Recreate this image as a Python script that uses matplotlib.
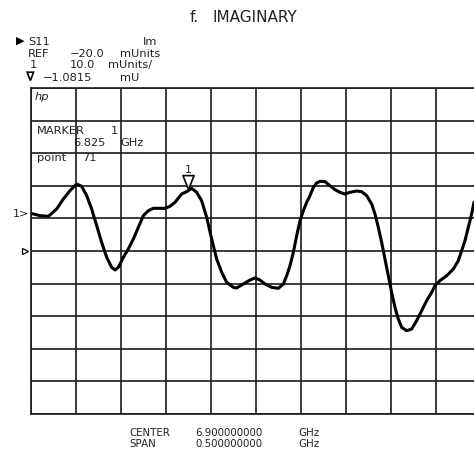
import matplotlib
matplotlib.use("Agg")
import matplotlib.pyplot as plt
import matplotlib.transforms as mtransforms

# ---- data ----
freq_ghz = [6.6500, 6.6600, 6.6693, 6.6785, 6.6859, 6.6933, 6.7007, 6.7063,
            6.7119, 6.7174, 6.7230, 6.7285, 6.7341, 6.7396, 6.7433, 6.7470,
            6.7526, 6.7581, 6.7637, 6.7693, 6.7748, 6.7804, 6.7859, 6.7989,
            6.8044, 6.8100, 6.8174, 6.8230, 6.8285, 6.8341, 6.8396, 6.8452,
            6.8507, 6.8563, 6.8619, 6.8674, 6.8748, 6.8785, 6.8859, 6.8933,
            6.8989, 6.9044, 6.9100, 6.9174, 6.9248, 6.9304, 6.9341, 6.9378,
            6.9415, 6.9452, 6.9489, 6.9526, 6.9563, 6.9600, 6.9637, 6.9674,
            6.9711, 6.9767, 6.9822, 6.9878, 6.9933, 6.9989, 7.0044, 7.0119,
            7.0174, 7.0230, 7.0285, 7.0322, 7.0359, 7.0396, 7.0433, 7.0470,
            7.0507, 7.0544, 7.0581, 7.0619, 7.0674, 7.0730, 7.0785, 7.0841,
            7.0896, 7.0952, 7.0989, 7.1044, 7.1119, 7.1193, 7.1248, 7.1285,
            7.1322, 7.1359, 7.1396, 7.1422]
imag_mu = [-8.45, -9.16, -9.37, -7.12, -4.05, -1.49, 0.55, -0.16,
           -3.03, -7.12, -12.23, -17.34, -21.94, -25.01, -25.83, -25.01,
           -21.94, -19.39, -16.32, -12.74, -9.16, -7.63, -6.91, -6.91,
           -6.30, -5.07, -2.52, -1.80, -0.78, -2.00, -4.56, -9.67,
           -16.32, -22.45, -26.54, -29.61, -31.15, -31.35, -30.12, -28.90,
           -28.28, -28.90, -30.12, -31.15, -31.45, -30.12, -27.57, -24.50,
           -20.41, -15.30, -10.70, -7.63, -5.07, -3.03, -0.47, 0.86,
           1.37, 1.27, 0.04, -1.19, -2.00, -2.52, -2.00, -1.60,
           -1.80, -3.03, -5.58, -8.65, -12.74, -17.34, -22.45, -27.57,
           -32.68, -37.28, -40.86, -43.42, -44.44, -43.93, -41.37, -38.30,
           -35.24, -32.68, -30.63, -29.10, -27.57, -25.52, -22.97, -19.90,
           -16.83, -12.74, -8.65, -5.07]

center_ghz = 6.9
span_ghz = 0.5
ref_mu = -20.0
scale_mu = 10.0
marker_ghz = 6.825
marker_mu = -1.0815

W, H = 474, 456
fig = plt.figure(figsize=(W / 100, H / 100), dpi=100)
fig.patch.set_facecolor("white")

# axes geometry (pixels): left 31, top 89, width 450, height 326
ax = fig.add_axes([31 / W, 1 - 415 / H, 450 / W, 326 / H])
x0 = center_ghz - span_ghz / 2
x1 = center_ghz + span_ghz / 2
ax.set_xlim(x0, x1)
ax.set_ylim(ref_mu - 5 * scale_mu, ref_mu + 5 * scale_mu)
ax.set_xticks([x0 + i * span_ghz / 10 for i in range(11)])
ax.set_yticks([ref_mu - 5 * scale_mu + i * scale_mu for i in range(11)])
ax.tick_params(length=0, labelbottom=False, labelleft=False)
ax.grid(True, color="#1a1a1a", linewidth=1.2)
for s in ax.spines.values():
    s.set_color("#1a1a1a")
    s.set_linewidth(1.2)
ax.set_axisbelow(True)

ax.plot(freq_ghz, imag_mu, color="black", linewidth=2.2, solid_capstyle="round",
        solid_joinstyle="round", zorder=3)

# marker 1 triangle (tip at the marker point)
tri = [(0, 0), (-0.4, 1), (0.4, 1), (0, 0)]
ax.plot([marker_ghz], [marker_mu], marker=tri, markersize=20,
        markerfacecolor="white", markeredgecolor="black", markeredgewidth=1.2,
        linestyle="none", zorder=4, clip_on=False)
ax.annotate("1", (marker_ghz, marker_mu), xytext=(0, 14.5), textcoords="offset points",
            ha="center", va="center", fontsize=8, color="#222222")

# reference position triangle at left edge
bt = mtransforms.blended_transform_factory(ax.transAxes, ax.transData)
ax.plot([-6.5 / 450], [ref_mu], marker=">", markersize=4.5, markerfacecolor="white",
        markeredgecolor="black", markeredgewidth=0.9, transform=bt, clip_on=False)

FS = 8.2
TC = "#222222"
def t(x, y, s, **kw):
    kw.setdefault("fontsize", FS)
    kw.setdefault("color", TC)
    fig.text(x / W, 1 - y / H, s, ha=kw.pop("ha", "left"), va="center", **kw)

# title
t(190, 18, "f.", fontsize=11)
t(213, 18, "IMAGINARY", fontsize=11)

# header block
t(16, 41, "\u25B6", fontsize=8, color="black")
t(28, 42, "S11")
t(143, 42, "Im")
t(28, 54, "REF")
t(70, 54, "\u221220.0")
t(120, 54, "mUnits")
t(30, 65, "1")
t(70, 65, "10.0")
t(108, 65, "mUnits/")
t(26, 77.5, "\u2207", fontweight="bold", fontsize=9, color="black")
t(43, 78, "\u22121.0815")
t(120, 78, "mU")

# marker readout inside the grid
t(35, 97, "hp", style="italic")
t(37, 131, "MARKER")
t(111, 131, "1")
t(73, 143, "6.825")
t(120, 143, "GHz")
t(37, 158, "point")
t(82, 158, "71")

# left "1>" indicator
t(13, 214, "1>", fontsize=8)

# bottom annotation
BFS = 7.4
t(129, 433.5, "CENTER", fontsize=BFS)
t(195, 433.5, "6.900000000", fontsize=BFS)
t(298, 433.5, "GHz", fontsize=BFS)
t(129, 444.5, "SPAN", fontsize=BFS)
t(195, 444.5, "0.500000000", fontsize=BFS)
t(298, 444.5, "GHz", fontsize=BFS)

fig.savefig("out.png", dpi=100, facecolor="white")
